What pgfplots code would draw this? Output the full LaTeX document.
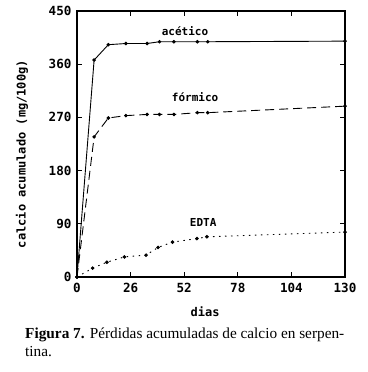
\documentclass[border=0pt]{standalone}
\usepackage{pgfplots}
\pgfplotsset{compat=1.18}
\usepackage{fontspec}
\setmainfont{Liberation Serif}
\newfontfamily\plotfont{DejaVu Sans Mono}
\begin{document}
\begin{tikzpicture}
\useasboundingbox (0,0) rectangle (367pt,372pt);
\begin{axis}[
  at={(77pt,95pt)}, anchor=south west,
  scale only axis, width=268pt, height=266pt,
  xmin=0, xmax=130, ymin=0, ymax=450,
  xtick={0,26,52,78,104,130}, ytick={0,90,180,270,360,450},
  tick align=inside, major tick length=5pt,
  tick style={line width=1pt, black},
  axis line style={line width=1.2pt},
  ticklabel style={font=\plotfont\bfseries\fontsize{12.6}{14}\selectfont},
  /pgf/number format/assume math mode=true,
  /pgf/number format/1000 sep={},
  xticklabel style={yshift=-3pt},
  yticklabel style={xshift=-2pt},
  every axis x label/.style={at={(axis description cs:0.478,-0.13)}, anchor=center},
  every axis y label/.style={at={(axis description cs:-0.205,0.462)}, rotate=90, anchor=center},
  label style={font=\plotfont\bfseries\fontsize{12}{14}\selectfont},
  xlabel={dias}, ylabel={calcio acumulado (mg/100g)},
  every axis plot/.append style={black, line width=0.9pt, mark=*, mark size=1.3pt, mark options={solid}},
]
\addplot[solid] coordinates {(0,0) (8.3,367) (15.2,393) (23.7,395) (34,395) (40,398) (47,398) (58.4,398) (63.4,398) (130,399)};
\addplot[dash pattern=on 9pt off 5pt] coordinates {(0,0) (8.3,237) (15.2,269) (23.7,273) (34,275) (40,275) (47,275) (58.4,278) (63.4,278) (130,289)};
\addplot[dash pattern=on 1.5pt off 4.5pt] coordinates {(0,0) (7.6,15) (14.5,25) (23,34) (33.5,37) (39.3,50) (46.3,59) (58.2,65) (63,68) (130,76)};
\node[font=\plotfont\bfseries\fontsize{11}{13}\selectfont] at (axis cs:52.4,416) {acético};
\node[font=\plotfont\bfseries\fontsize{11}{13}\selectfont] at (axis cs:57.3,304) {fórmico};
\node[font=\plotfont\bfseries\fontsize{11}{13}\selectfont] at (axis cs:61.2,92) {EDTA};
\end{axis}
\node[anchor=base west, align=left, font=\fontsize{15.3}{18}\selectfont, inner sep=0pt] at (25pt,15pt) {\textbf{Figura 7.} Pérdidas acumuladas de calcio en serpen-\\tina.};
\end{tikzpicture}
\end{document}
